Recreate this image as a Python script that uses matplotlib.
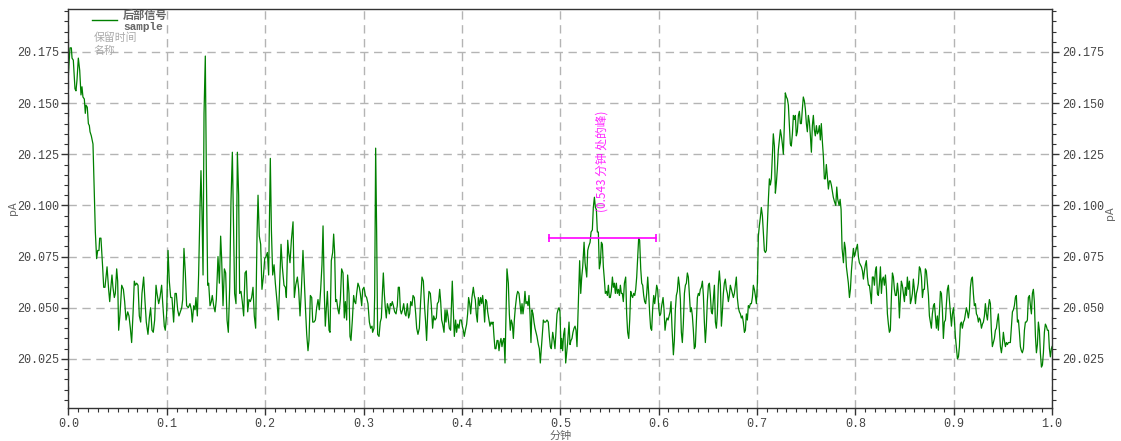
import numpy as np
import matplotlib
matplotlib.use("Agg")
import matplotlib.pyplot as plt
from matplotlib.ticker import MultipleLocator, FormatStrFormatter

plt.rcParams['font.family'] = ['Noto Sans CJK SC', 'DejaVu Sans']

minutos = [
    0.0000, 0.0015, 0.0029, 0.0036, 0.0049, 0.0066, 0.0076, 0.0086, 0.0100, 0.0114,
    0.0127, 0.0137, 0.0147, 0.0161, 0.0171, 0.0178, 0.0191, 0.0202, 0.0212, 0.0219,
    0.0232, 0.0249, 0.0263, 0.0273, 0.0286, 0.0297, 0.0310, 0.0317, 0.0330, 0.0347,
    0.0358, 0.0371, 0.0392, 0.0408, 0.0419, 0.0429, 0.0442, 0.0452, 0.0466, 0.0476,
    0.0490, 0.0500, 0.0510, 0.0524, 0.0541, 0.0558, 0.0571, 0.0585, 0.0602, 0.0615,
    0.0629, 0.0642, 0.0656, 0.0669, 0.0680, 0.0693, 0.0707, 0.0720, 0.0734, 0.0747,
    0.0764, 0.0778, 0.0791, 0.0808, 0.0822, 0.0835, 0.0849, 0.0862, 0.0876, 0.0890,
    0.0900, 0.0917, 0.0930, 0.0947, 0.0957, 0.0974, 0.0984, 0.0998, 0.1012, 0.1025,
    0.1039, 0.1052, 0.1069, 0.1083, 0.1096, 0.1110, 0.1123, 0.1137, 0.1151, 0.1161,
    0.1174, 0.1188, 0.1201, 0.1218, 0.1235, 0.1249, 0.1259, 0.1273, 0.1286, 0.1296,
    0.1310, 0.1323, 0.1337, 0.1347, 0.1357, 0.1368, 0.1378, 0.1391, 0.1401, 0.1415,
    0.1425, 0.1439, 0.1452, 0.1462, 0.1476, 0.1490, 0.1503, 0.1520, 0.1534, 0.1547,
    0.1557, 0.1571, 0.1585, 0.1598, 0.1612, 0.1625, 0.1639, 0.1652, 0.1666, 0.1679,
    0.1689, 0.1703, 0.1717, 0.1730, 0.1740, 0.1754, 0.1767, 0.1781, 0.1795, 0.1808,
    0.1822, 0.1835, 0.1849, 0.1862, 0.1876, 0.1889, 0.1903, 0.1917, 0.1927, 0.1940,
    0.1954, 0.1967, 0.1981, 0.1995, 0.2008, 0.2022, 0.2035, 0.2052, 0.2063, 0.2076,
    0.2090, 0.2103, 0.2120, 0.2134, 0.2147, 0.2161, 0.2174, 0.2191, 0.2205, 0.2215,
    0.2229, 0.2239, 0.2252, 0.2266, 0.2283, 0.2296, 0.2310, 0.2327, 0.2340, 0.2354,
    0.2367, 0.2384, 0.2398, 0.2411, 0.2422, 0.2435, 0.2445, 0.2459, 0.2473, 0.2483,
    0.2496, 0.2510, 0.2523, 0.2537, 0.2550, 0.2564, 0.2577, 0.2588, 0.2601, 0.2611,
    # 0.26 - 0.52
    0.2632, 0.2649, 0.2659, 0.2672, 0.2686, 0.2696, 0.2706, 0.2716, 0.2726, 0.2740,
    0.2750, 0.2764, 0.2777, 0.2791, 0.2804, 0.2815, 0.2828, 0.2838, 0.2852, 0.2862,
    0.2872, 0.2886, 0.2899, 0.2909, 0.2920, 0.2930, 0.2943, 0.2957, 0.2967, 0.2981,
    0.2991, 0.3004, 0.3018, 0.3031, 0.3045, 0.3059, 0.3072, 0.3086, 0.3092, 0.3106,
    0.3113, 0.3123, 0.3133, 0.3143, 0.3157, 0.3170, 0.3181, 0.3191, 0.3201, 0.3211,
    0.3221, 0.3231, 0.3242, 0.3252, 0.3262, 0.3272, 0.3282, 0.3292, 0.3303, 0.3316,
    0.3330, 0.3343, 0.3353, 0.3364, 0.3374, 0.3384, 0.3397, 0.3408, 0.3421, 0.3431,
    0.3445, 0.3458, 0.3469, 0.3479, 0.3492, 0.3503, 0.3516, 0.3530, 0.3540, 0.3553,
    0.3567, 0.3580, 0.3594, 0.3608, 0.3621, 0.3631, 0.3641, 0.3655, 0.3665, 0.3679,
    0.3689, 0.3702, 0.3713, 0.3726, 0.3740, 0.3750, 0.3763, 0.3774, 0.3784, 0.3794,
    0.3804, 0.3818, 0.3828, 0.3838, 0.3848, 0.3858, 0.3872, 0.3885, 0.3896, 0.3902,
    0.3913, 0.3923, 0.3936, 0.3946, 0.3957, 0.3970, 0.3980, 0.3994, 0.4004, 0.4014,
    0.4024, 0.4035, 0.4048, 0.4058, 0.4068, 0.4079, 0.4089, 0.4102, 0.4116, 0.4126,
    0.4136, 0.4146, 0.4157, 0.4167, 0.4180, 0.4190, 0.4201, 0.4211, 0.4221, 0.4231,
    0.4241, 0.4252, 0.4262, 0.4272, 0.4285, 0.4296, 0.4306, 0.4316, 0.4326, 0.4336,
    0.4346, 0.4357, 0.4367, 0.4377, 0.4387, 0.4397, 0.4407, 0.4418, 0.4428, 0.4438,
    0.4448, 0.4458, 0.4472, 0.4482, 0.4492, 0.4502, 0.4513, 0.4523, 0.4533, 0.4543,
    0.4557, 0.4567, 0.4580, 0.4590, 0.4601, 0.4611, 0.4621, 0.4631, 0.4641, 0.4651,
    0.4662, 0.4672, 0.4682, 0.4692, 0.4702, 0.4712, 0.4723, 0.4733, 0.4743, 0.4753,
    0.4763, 0.4777, 0.4787, 0.4797, 0.4807, 0.4818, 0.4828, 0.4838, 0.4851, 0.4865,
    0.4878, 0.4889, 0.4899, 0.4909, 0.4923, 0.4936, 0.4946, 0.4956, 0.4967, 0.4977,
    0.4987, 0.4997, 0.5007, 0.5014, 0.5024, 0.5034, 0.5045, 0.5055, 0.5065, 0.5075,
    0.5089, 0.5099, 0.5109, 0.5119, 0.5129, 0.5140, 0.5150, 0.5160, 0.5170, 0.5180,
    0.5187, 0.5197,
    # 0.52 - 0.78
    0.5208, 0.5218, 0.5228, 0.5242, 0.5252, 0.5269, 0.5279, 0.5289, 0.5303, 0.5313,
    0.5326, 0.5336, 0.5347, 0.5357, 0.5367, 0.5377, 0.5387, 0.5397, 0.5408, 0.5418,
    0.5428, 0.5438, 0.5448, 0.5458, 0.5469, 0.5479, 0.5489, 0.5499, 0.5509, 0.5519,
    0.5530, 0.5540, 0.5550, 0.5560, 0.5570, 0.5580, 0.5591, 0.5601, 0.5611, 0.5621,
    0.5631, 0.5641, 0.5652, 0.5665, 0.5675, 0.5685, 0.5696, 0.5706, 0.5716, 0.5726,
    0.5736, 0.5746, 0.5757, 0.5767, 0.5777, 0.5787, 0.5797, 0.5807, 0.5818, 0.5828,
    0.5838, 0.5848, 0.5858, 0.5868, 0.5879, 0.5889, 0.5899, 0.5909, 0.5919, 0.5929,
    0.5940, 0.5950, 0.5960, 0.5970, 0.5980, 0.5990, 0.6001, 0.6011, 0.6021, 0.6031,
    0.6045, 0.6055, 0.6065, 0.6075, 0.6085, 0.6096, 0.6106, 0.6116, 0.6126, 0.6136,
    0.6150, 0.6160, 0.6170, 0.6180, 0.6190, 0.6201, 0.6211, 0.6221, 0.6231, 0.6241,
    0.6251, 0.6262, 0.6272, 0.6282, 0.6292, 0.6302, 0.6312, 0.6323, 0.6333, 0.6343,
    0.6353, 0.6363, 0.6373, 0.6384, 0.6394, 0.6404, 0.6414, 0.6424, 0.6434, 0.6445,
    0.6455, 0.6465, 0.6475, 0.6485, 0.6495, 0.6506, 0.6516, 0.6526, 0.6536, 0.6546,
    0.6556, 0.6567, 0.6577, 0.6587, 0.6597, 0.6607, 0.6617, 0.6628, 0.6638, 0.6648,
    0.6658, 0.6668, 0.6678, 0.6689, 0.6699, 0.6709, 0.6719, 0.6729, 0.6739, 0.6750,
    0.6760, 0.6770, 0.6780, 0.6790, 0.6800, 0.6811, 0.6821, 0.6831, 0.6841, 0.6851,
    0.6861, 0.6872, 0.6882, 0.6892, 0.6902, 0.6912, 0.6922, 0.6933, 0.6943, 0.6953,
    0.6963, 0.6973, 0.6983, 0.6994, 0.7004, 0.7014, 0.7024, 0.7034, 0.7044, 0.7055,
    0.7065, 0.7075, 0.7085, 0.7095, 0.7105, 0.7116, 0.7126, 0.7136, 0.7146, 0.7156,
    0.7166, 0.7177, 0.7187, 0.7197, 0.7207, 0.7217, 0.7227, 0.7238, 0.7248, 0.7258,
    0.7268, 0.7278, 0.7288, 0.7299, 0.7309, 0.7319, 0.7329, 0.7339, 0.7349, 0.7360,
    0.7370, 0.7380, 0.7390, 0.7400, 0.7410, 0.7421, 0.7431, 0.7441, 0.7451, 0.7461,
    0.7471, 0.7482, 0.7492, 0.7502, 0.7512, 0.7522, 0.7532, 0.7543, 0.7553, 0.7563,
    0.7573, 0.7583, 0.7593, 0.7604, 0.7614, 0.7624, 0.7634, 0.7644, 0.7654, 0.7665,
    0.7675, 0.7685, 0.7695, 0.7705, 0.7715, 0.7726, 0.7736, 0.7746, 0.7756, 0.7766,
    0.7776, 0.7787,
    # 0.78 - 1.0
    0.7801, 0.7811, 0.7821, 0.7835, 0.7845, 0.7855, 0.7865, 0.7879, 0.7889, 0.7899,
    0.7909, 0.7919, 0.7929, 0.7940, 0.7950, 0.7960, 0.7970, 0.7980, 0.7990, 0.8001,
    0.8011, 0.8021, 0.8031, 0.8041, 0.8051, 0.8062, 0.8072, 0.8082, 0.8092, 0.8102,
    0.8112, 0.8123, 0.8133, 0.8143, 0.8153, 0.8163, 0.8173, 0.8184, 0.8194, 0.8204,
    0.8214, 0.8224, 0.8234, 0.8245, 0.8255, 0.8265, 0.8275, 0.8285, 0.8295, 0.8306,
    0.8316, 0.8326, 0.8336, 0.8346, 0.8356, 0.8367, 0.8377, 0.8387, 0.8397, 0.8407,
    0.8417, 0.8428, 0.8438, 0.8448, 0.8458, 0.8468, 0.8478, 0.8489, 0.8499, 0.8509,
    0.8519, 0.8529, 0.8539, 0.8550, 0.8560, 0.8570, 0.8580, 0.8590, 0.8600, 0.8611,
    0.8621, 0.8631, 0.8641, 0.8651, 0.8661, 0.8672, 0.8682, 0.8692, 0.8702, 0.8712,
    0.8722, 0.8733, 0.8743, 0.8753, 0.8763, 0.8773, 0.8783, 0.8794, 0.8804, 0.8814,
    0.8824, 0.8834, 0.8844, 0.8855, 0.8865, 0.8875, 0.8885, 0.8895, 0.8905, 0.8916,
    0.8926, 0.8936, 0.8946, 0.8956, 0.8966, 0.8977, 0.8987, 0.8997, 0.9007, 0.9017,
    0.9027, 0.9038, 0.9048, 0.9058, 0.9068, 0.9078, 0.9088, 0.9099, 0.9109, 0.9119,
    0.9129, 0.9139, 0.9149, 0.9160, 0.9170, 0.9180, 0.9190, 0.9200, 0.9210, 0.9221,
    0.9231, 0.9241, 0.9251, 0.9261, 0.9271, 0.9282, 0.9292, 0.9302, 0.9312, 0.9322,
    0.9332, 0.9343, 0.9353, 0.9363, 0.9373, 0.9383, 0.9393, 0.9404, 0.9414, 0.9424,
    0.9434, 0.9444, 0.9454, 0.9465, 0.9475, 0.9485, 0.9495, 0.9505, 0.9515, 0.9526,
    0.9536, 0.9546, 0.9556, 0.9566, 0.9576, 0.9587, 0.9597, 0.9607, 0.9617, 0.9627,
    0.9637, 0.9648, 0.9658, 0.9668, 0.9678, 0.9688, 0.9698, 0.9709, 0.9719, 0.9729,
    0.9739, 0.9749, 0.9759, 0.9770, 0.9780, 0.9790, 0.9800, 0.9810, 0.9820, 0.9831,
    0.9841, 0.9851, 0.9861, 0.9871, 0.9881, 0.9892, 0.9902, 0.9912, 0.9922, 0.9932,
    0.9942, 0.9953, 0.9963, 0.9973, 0.9983, 0.9993, 1.0000,
]

sinal_pa = [
    20.165, 20.177, 20.177, 20.172, 20.171, 20.157, 20.156, 20.161, 20.172, 20.166,
    20.154, 20.158, 20.153, 20.152, 20.145, 20.149, 20.148, 20.140, 20.139, 20.136,
    20.134, 20.130, 20.106, 20.087, 20.074, 20.078, 20.078, 20.084, 20.084, 20.070,
    20.060, 20.060, 20.070, 20.059, 20.053, 20.059, 20.066, 20.060, 20.055, 20.057,
    20.069, 20.063, 20.039, 20.047, 20.061, 20.059, 20.053, 20.044, 20.048, 20.046,
    20.040, 20.033, 20.047, 20.063, 20.061, 20.062, 20.061, 20.046, 20.043, 20.057,
    20.065, 20.053, 20.043, 20.037, 20.045, 20.050, 20.039, 20.038, 20.044, 20.061,
    20.057, 20.052, 20.055, 20.061, 20.053, 20.041, 20.039, 20.047, 20.078, 20.063,
    20.055, 20.055, 20.043, 20.057, 20.057, 20.049, 20.046, 20.048, 20.050, 20.054,
    20.079, 20.067, 20.051, 20.050, 20.052, 20.049, 20.043, 20.051, 20.049, 20.055,
    20.046, 20.066, 20.099, 20.117, 20.097, 20.066, 20.145, 20.173, 20.119, 20.061,
    20.062, 20.051, 20.053, 20.056, 20.051, 20.048, 20.054, 20.075, 20.062, 20.085,
    20.074, 20.051, 20.069, 20.067, 20.044, 20.038, 20.060, 20.102, 20.126, 20.086,
    20.057, 20.052, 20.126, 20.105, 20.057, 20.058, 20.053, 20.046, 20.067, 20.068,
    20.048, 20.054, 20.053, 20.055, 20.060, 20.046, 20.040, 20.086, 20.105, 20.085,
    20.081, 20.059, 20.065, 20.074, 20.075, 20.077, 20.066, 20.123, 20.088, 20.066,
    20.071, 20.062, 20.053, 20.044, 20.062, 20.081, 20.070, 20.061, 20.060, 20.055,
    20.083, 20.077, 20.072, 20.083, 20.092, 20.055, 20.061, 20.065, 20.059, 20.046,
    20.058, 20.078, 20.062, 20.048, 20.037, 20.029, 20.034, 20.056, 20.055, 20.043,
    20.043, 20.044, 20.050, 20.054, 20.049, 20.059, 20.071, 20.090, 20.057, 20.041,
    # 0.26 - 0.52
    20.058, 20.039, 20.038, 20.073, 20.077, 20.086, 20.077, 20.053, 20.054, 20.049,
    20.047, 20.054, 20.069, 20.067, 20.045, 20.053, 20.044, 20.066, 20.057, 20.036,
    20.034, 20.044, 20.056, 20.053, 20.052, 20.057, 20.062, 20.060, 20.057, 20.051,
    20.059, 20.060, 20.056, 20.055, 20.052, 20.043, 20.040, 20.041, 20.038, 20.040,
    20.056, 20.128, 20.087, 20.037, 20.036, 20.043, 20.045, 20.057, 20.067, 20.057,
    20.050, 20.045, 20.052, 20.050, 20.047, 20.052, 20.051, 20.053, 20.051, 20.048,
    20.047, 20.051, 20.060, 20.060, 20.049, 20.047, 20.049, 20.052, 20.047, 20.046,
    20.052, 20.045, 20.047, 20.053, 20.051, 20.056, 20.055, 20.047, 20.040, 20.037,
    20.040, 20.053, 20.065, 20.063, 20.050, 20.043, 20.034, 20.051, 20.058, 20.057,
    20.051, 20.040, 20.046, 20.044, 20.045, 20.052, 20.053, 20.059, 20.053, 20.044,
    20.042, 20.038, 20.049, 20.043, 20.049, 20.046, 20.040, 20.039, 20.054, 20.063,
    20.048, 20.036, 20.044, 20.038, 20.042, 20.040, 20.044, 20.044, 20.041, 20.039,
    20.036, 20.039, 20.042, 20.047, 20.055, 20.052, 20.047, 20.055, 20.060, 20.056,
    20.054, 20.047, 20.043, 20.055, 20.051, 20.055, 20.052, 20.056, 20.051, 20.043,
    20.054, 20.053, 20.048, 20.045, 20.041, 20.043, 20.042, 20.043, 20.036, 20.030,
    20.030, 20.034, 20.034, 20.029, 20.033, 20.035, 20.031, 20.034, 20.035, 20.023,
    20.046, 20.069, 20.062, 20.047, 20.039, 20.044, 20.042, 20.035, 20.044, 20.050,
    20.056, 20.058, 20.057, 20.052, 20.047, 20.052, 20.047, 20.051, 20.058, 20.052,
    20.053, 20.051, 20.056, 20.047, 20.033, 20.049, 20.047, 20.043, 20.040, 20.038,
    20.036, 20.032, 20.030, 20.023, 20.030, 20.038, 20.044, 20.043, 20.043, 20.044,
    20.043, 20.036, 20.031, 20.030, 20.038, 20.034, 20.030, 20.038, 20.047, 20.049,
    20.050, 20.048, 20.030, 20.035, 20.029, 20.037, 20.040, 20.023, 20.028, 20.033,
    20.043, 20.032, 20.034, 20.035, 20.038, 20.040, 20.041, 20.039, 20.031, 20.046,
    20.057, 20.073,
    # 0.52 - 0.78
    20.057, 20.065, 20.070, 20.082, 20.072, 20.065, 20.078, 20.080, 20.082, 20.087,
    20.088, 20.099, 20.104, 20.099, 20.098, 20.087, 20.087, 20.069, 20.072, 20.082,
    20.081, 20.070, 20.064, 20.057, 20.058, 20.056, 20.061, 20.055, 20.055, 20.058,
    20.065, 20.060, 20.062, 20.057, 20.062, 20.057, 20.059, 20.056, 20.061, 20.057,
    20.057, 20.053, 20.062, 20.065, 20.047, 20.038, 20.035, 20.044, 20.058, 20.056,
    20.055, 20.057, 20.056, 20.059, 20.065, 20.075, 20.084, 20.083, 20.069, 20.062,
    20.061, 20.056, 20.053, 20.052, 20.057, 20.065, 20.057, 20.047, 20.040, 20.039,
    20.050, 20.056, 20.052, 20.056, 20.061, 20.059, 20.050, 20.046, 20.047, 20.051,
    20.055, 20.049, 20.039, 20.043, 20.045, 20.044, 20.046, 20.048, 20.053, 20.040,
    20.027, 20.034, 20.049, 20.056, 20.058, 20.065, 20.061, 20.054, 20.038, 20.033,
    20.042, 20.057, 20.061, 20.062, 20.067, 20.065, 20.057, 20.048, 20.050, 20.046,
    20.039, 20.030, 20.031, 20.043, 20.055, 20.057, 20.056, 20.059, 20.060, 20.063,
    20.056, 20.043, 20.033, 20.041, 20.053, 20.061, 20.062, 20.056, 20.048, 20.047,
    20.054, 20.061, 20.043, 20.040, 20.047, 20.061, 20.068, 20.061, 20.041, 20.048,
    20.057, 20.062, 20.064, 20.059, 20.057, 20.053, 20.056, 20.061, 20.059, 20.057,
    20.055, 20.057, 20.061, 20.065, 20.055, 20.050, 20.048, 20.047, 20.045, 20.046,
    20.043, 20.038, 20.039, 20.047, 20.044, 20.051, 20.050, 20.052, 20.052, 20.055,
    20.061, 20.059, 20.056, 20.052, 20.062, 20.085, 20.090, 20.094, 20.099, 20.095,
    20.086, 20.078, 20.077, 20.078, 20.090, 20.103, 20.113, 20.110, 20.113, 20.124,
    20.135, 20.129, 20.106, 20.111, 20.118, 20.127, 20.132, 20.137, 20.134, 20.130,
    20.125, 20.139, 20.155, 20.153, 20.152, 20.149, 20.139, 20.130, 20.129, 20.135,
    20.144, 20.142, 20.144, 20.134, 20.136, 20.144, 20.146, 20.140, 20.140, 20.147,
    20.153, 20.151, 20.147, 20.140, 20.136, 20.144, 20.141, 20.134, 20.126, 20.139,
    20.144, 20.137, 20.134, 20.139, 20.135, 20.136, 20.139, 20.132, 20.140, 20.131,
    20.124, 20.113, 20.113, 20.120, 20.114, 20.108, 20.112, 20.112, 20.110, 20.107,
    20.104, 20.102,
    # 0.78 - 1.0
    20.100, 20.109, 20.103, 20.100, 20.103, 20.098, 20.079, 20.072, 20.082, 20.079,
    20.070, 20.066, 20.062, 20.055, 20.059, 20.068, 20.074, 20.079, 20.075, 20.077,
    20.079, 20.081, 20.075, 20.072, 20.071, 20.070, 20.068, 20.064, 20.068, 20.071,
    20.073, 20.065, 20.061, 20.061, 20.057, 20.052, 20.065, 20.065, 20.061, 20.068,
    20.070, 20.057, 20.056, 20.062, 20.070, 20.057, 20.064, 20.065, 20.061, 20.066,
    20.059, 20.047, 20.042, 20.038, 20.039, 20.056, 20.067, 20.065, 20.059, 20.056,
    20.056, 20.062, 20.057, 20.045, 20.055, 20.063, 20.061, 20.057, 20.053, 20.060,
    20.056, 20.065, 20.059, 20.063, 20.052, 20.054, 20.057, 20.064, 20.059, 20.052,
    20.057, 20.059, 20.062, 20.070, 20.069, 20.065, 20.055, 20.059, 20.059, 20.069,
    20.068, 20.062, 20.056, 20.046, 20.043, 20.040, 20.047, 20.051, 20.052, 20.046,
    20.040, 20.046, 20.039, 20.048, 20.058, 20.057, 20.049, 20.035, 20.043, 20.044,
    20.052, 20.059, 20.061, 20.054, 20.048, 20.041, 20.047, 20.050, 20.044, 20.036,
    20.031, 20.025, 20.026, 20.031, 20.042, 20.043, 20.040, 20.043, 20.044, 20.047,
    20.050, 20.048, 20.045, 20.049, 20.060, 20.064, 20.065, 20.057, 20.051, 20.052,
    20.047, 20.046, 20.043, 20.045, 20.044, 20.040, 20.042, 20.043, 20.046, 20.052,
    20.047, 20.044, 20.050, 20.054, 20.052, 20.039, 20.031, 20.033, 20.035, 20.039,
    20.040, 20.044, 20.047, 20.039, 20.031, 20.028, 20.032, 20.038, 20.034, 20.031,
    20.033, 20.032, 20.033, 20.033, 20.033, 20.041, 20.048, 20.049, 20.051, 20.055,
    20.056, 20.043, 20.044, 20.038, 20.031, 20.029, 20.028, 20.030, 20.039, 20.043,
    20.043, 20.044, 20.055, 20.056, 20.051, 20.047, 20.057, 20.059, 20.053, 20.036,
    20.028, 20.032, 20.043, 20.039, 20.028, 20.021, 20.022, 20.028, 20.038, 20.042,
    20.041, 20.039, 20.039, 20.030, 20.026, 20.030, 20.031,
]

# marcação do pico
pico_inicio = 0.4886
pico_fim = 0.5973
pico_nivel = 20.084
pico_texto = "(0.543 分钟 处的峰)"

verde = '#008000'
magenta = '#ff00ff'
cinza_grade = '#b4b4b4'

fig = plt.figure(figsize=(11.21, 4.41), dpi=100)
ax = fig.add_axes([0.0611, 0.0748, 0.8774, 0.9048])

ax.plot(minutos, sinal_pa, color=verde, lw=0.9)

# barra horizontal do pico com as pontas
ax.plot([pico_inicio, pico_fim], [pico_nivel, pico_nivel], color=magenta, lw=1.2,
        marker='|', markersize=6, markeredgewidth=1.2)
ax.text((pico_inicio + pico_fim) / 2 - 0.0007, 20.097, pico_texto, color=magenta,
        rotation=90, ha='center', va='bottom', fontsize=8.5, alpha=0.85)

ax.set_xlim(0.0, 1.0)
ax.set_ylim(20.001, 20.196)

ax.xaxis.set_major_locator(MultipleLocator(0.1))
ax.xaxis.set_minor_locator(MultipleLocator(0.01))
ax.xaxis.set_major_formatter(FormatStrFormatter('%.1f'))
ax.yaxis.set_major_locator(MultipleLocator(0.025))
ax.yaxis.set_minor_locator(MultipleLocator(0.005))
ax.yaxis.set_major_formatter(FormatStrFormatter('%.3f'))

ax.grid(True, which='major', color=cinza_grade, lw=1.0, linestyle=(0, (6, 4)))

ax.tick_params(axis='both', which='major', direction='out', length=5, width=1,
               color='#333333', labelcolor='#444444', labelsize=8.5, pad=2)
ax.tick_params(axis='both', which='minor', direction='out', length=3, width=0.8,
               color='#333333')
ax.tick_params(axis='y', which='both', left=True, right=True, labelleft=True, labelright=True)
for lab in ax.get_xticklabels() + ax.get_yticklabels():
    lab.set_family(['Liberation Mono', 'DejaVu Sans Mono'])

for s in ax.spines.values():
    s.set_color('#333333')
    s.set_linewidth(1.0)

ax.set_xlabel('分钟', fontsize=8, color='#666666', labelpad=1)
ax.set_ylabel('pA', fontsize=8, color='#666666')
ax.yaxis.set_label_coords(-0.051, 0.5)
fig.text(0.990, 0.5 + 0.0748 / 2 - 0.02, 'pA', rotation=90, fontsize=8,
         color='#666666', ha='center', va='center')

# legenda personalizada
ax.plot([0.0239, 0.0493], [0.972, 0.972], color=verde, lw=1.0, transform=ax.transAxes,
        clip_on=False)
ax.text(0.0554, 0.983, '后部信号', transform=ax.transAxes, fontsize=8, fontweight='bold',
        color='#666666', va='center', ha='left')
ax.text(0.0554, 0.955, 'sample', transform=ax.transAxes, fontsize=8, fontweight='bold',
        color='#666666', va='center', ha='left', family=['Liberation Mono', 'DejaVu Sans Mono'])
ax.text(0.0255, 0.927, '保留时间', transform=ax.transAxes, fontsize=7.8,
        color='#aaaaaa', va='center', ha='left')
ax.text(0.0255, 0.895, '名称', transform=ax.transAxes, fontsize=7.8,
        color='#aaaaaa', va='center', ha='left')

fig.savefig('out.png', dpi=100)
